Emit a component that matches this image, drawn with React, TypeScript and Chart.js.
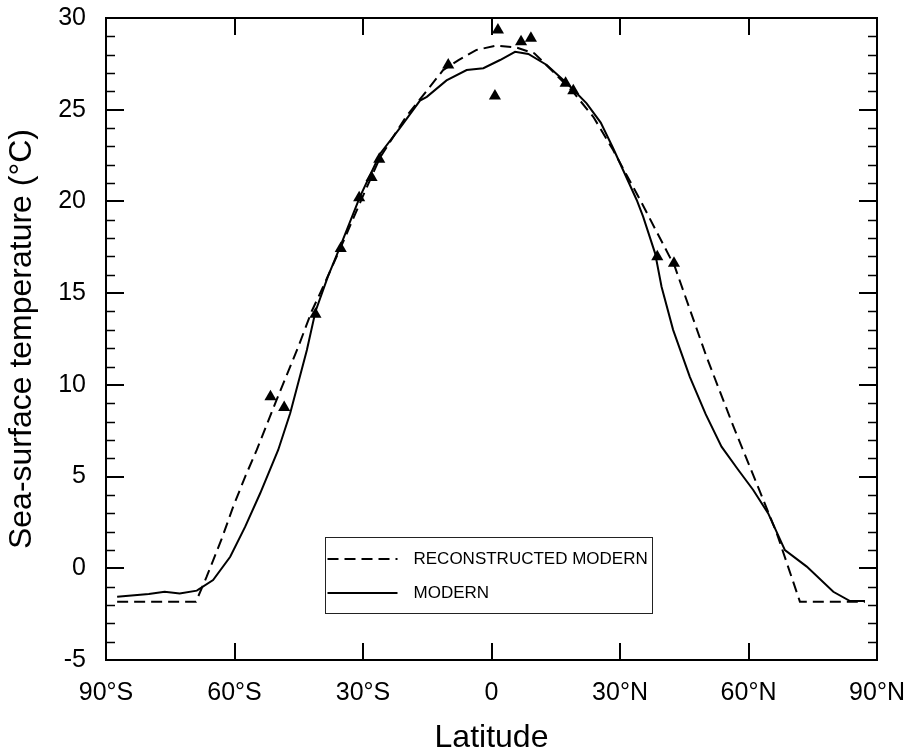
import React, { useEffect, useRef } from "react";
import { Chart, registerables } from "chart.js";

Chart.register(...registerables);

// ---- Data ----
const seriesLabels = ["RECONSTRUCTED MODERN", "MODERN"];

const reconLat = [-87.4, -69, -66.5, -63, -60.3, -57.5, -54.8, -50.2, -45.1, -42, -39.6, -35, -30, -26, -20, -15, -11.3, -7.7, -3.5, 1.2, 6, 10, 14.4, 19, 23.8, 28.4, 34.7, 42.8, 50.2, 56.5, 61.9, 66.6, 72, 87.2];
const reconSST = [-1.82, -1.82, -0.46, 1.6, 3.36, 5.0, 6.45, 9.17, 12.08, 14.0, 15.2, 17.6, 20.3, 22.4, 24.6, 26.07, 27.16, 27.7, 28.26, 28.5, 28.38, 28.07, 27.07, 25.98, 24.6, 22.8, 20.08, 16.44, 11.53, 7.72, 4.63, 1.91, -1.82, -1.82];

const modernLat = [-87.4, -80, -76.3, -72.8, -68.8, -65, -61, -57.5, -54, -49.8, -47, -43.1, -41.1, -38.2, -35.4, -30.7, -26, -21.4, -16.7, -15.1, -10.5, -5.8, -1.9, 2, 5.5, 8.6, 12.9, 17.6, 22.2, 25.5, 28.4, 33.9, 35.4, 38.2, 39.7, 42.4, 46.3, 50, 53.7, 57.5, 61.1, 64.6, 68.5, 73.6, 79.8, 83.7, 87.2];
const modernSST = [-1.55, -1.4, -1.28, -1.37, -1.22, -0.64, 0.63, 2.27, 4.09, 6.45, 8.45, 11.9, 14.0, 15.9, 17.5, 20.26, 22.6, 24.0, 25.5, 25.7, 26.6, 27.16, 27.26, 27.71, 28.16, 28.04, 27.44, 26.44, 25.35, 24.3, 22.9, 20.08, 19.17, 17.17, 15.35, 13.0, 10.44, 8.4, 6.63, 5.4, 4.27, 2.99, 0.99, 0.09, -1.28, -1.79, -1.79];

const coreLat = [1.5, 0.8, -10.1, 6.9, 9.2, 17.3, 19.1, 38.7, 42.6, -51.6, -48.4, -41.1, -35.2, -30.9, -28.0, -26.2];
const coreSST = [29.35, 25.75, 27.44, 28.7, 28.9, 26.44, 26.04, 16.99, 16.63, 9.35, 8.77, 13.85, 17.44, 20.2, 21.3, 22.3];

const xTickValues = [-90, -60, -30, 0, 30, 60, 90];
const xTickLabels = ["90°S", "60°S", "30°S", "0", "30°N", "60°N", "90°N"];
const yTickValues = [-5, 0, 5, 10, 15, 20, 25, 30];
const yMinorStep = 1;

const FONT = "'Liberation Sans', Arial, Helvetica, sans-serif";

const framePlugin = {
  id: "frameTicks",
  afterDatasetsDraw(chart: any) {
    const { ctx, chartArea: a, scales } = chart;
    const x = scales.x;
    const y = scales.y;
    ctx.save();
    ctx.strokeStyle = "#000";
    // minor y ticks
    ctx.lineWidth = 1.5;
    const yMin = yTickValues[0];
    const yMax = yTickValues[yTickValues.length - 1];
    for (let v = yMin; v <= yMax; v += yMinorStep) {
      if (yTickValues.includes(v)) continue;
      const py = Math.round(y.getPixelForValue(v)) + 0.5;
      ctx.beginPath();
      ctx.moveTo(a.left, py);
      ctx.lineTo(a.left + 9, py);
      ctx.moveTo(a.right, py);
      ctx.lineTo(a.right - 9, py);
      ctx.stroke();
    }
    // major y ticks
    ctx.lineWidth = 2;
    yTickValues.forEach((v) => {
      const py = Math.round(y.getPixelForValue(v));
      ctx.beginPath();
      ctx.moveTo(a.left, py);
      ctx.lineTo(a.left + 18, py);
      ctx.moveTo(a.right, py);
      ctx.lineTo(a.right - 18, py);
      ctx.stroke();
    });
    // major x ticks
    xTickValues.forEach((v) => {
      const px = Math.round(x.getPixelForValue(v));
      ctx.beginPath();
      ctx.moveTo(px, a.top);
      ctx.lineTo(px, a.top + 17);
      ctx.moveTo(px, a.bottom);
      ctx.lineTo(px, a.bottom - 17);
      ctx.stroke();
    });
    // frame
    ctx.lineWidth = 2;
    ctx.strokeRect(a.left, a.top, a.right - a.left, a.bottom - a.top);

    // legend box
    const bx = 325.5, by = 537.5, bw = 327, bh = 76;
    ctx.lineWidth = 1;
    ctx.strokeStyle = "#222";
    ctx.strokeRect(bx, by, bw, bh);
    const rows = [559, 593];
    ctx.font = `17px ${FONT}`;
    ctx.fillStyle = "#000";
    ctx.textBaseline = "middle";
    ctx.textAlign = "left";
    chart.data.datasets.slice(0, 2).forEach((ds: any, i: number) => {
      ctx.strokeStyle = "#000";
      ctx.lineWidth = 2;
      ctx.setLineDash(ds.borderDash || []);
      ctx.beginPath();
      ctx.moveTo(bx + 2, rows[i]);
      ctx.lineTo(bx + 72, rows[i]);
      ctx.stroke();
      ctx.setLineDash([]);
      ctx.fillText(ds.label, bx + 88, rows[i]);
    });
    ctx.restore();
  },
};

export default function App() {
  const ref = useRef<HTMLCanvasElement | null>(null);
  useEffect(() => {
    if (!ref.current) return;
    const chart = new Chart(ref.current, {
      type: "scatter",
      data: {
        datasets: [
          {
            label: seriesLabels[0],
            data: reconLat.map((v, i) => ({ x: v, y: reconSST[i] })),
            showLine: true,
            borderColor: "#000",
            borderWidth: 2,
            borderDash: [11, 6],
            pointRadius: 0,
            tension: 0,
          },
          {
            label: seriesLabels[1],
            data: modernLat.map((v, i) => ({ x: v, y: modernSST[i] })),
            showLine: true,
            borderColor: "#000",
            borderWidth: 2,
            pointRadius: 0,
            tension: 0,
          },
          {
            label: "Core tops",
            data: coreLat.map((v, i) => ({ x: v, y: coreSST[i] })),
            showLine: false,
            pointStyle: "triangle",
            pointRadius: 7,
            backgroundColor: "#000",
            borderColor: "#000",
            borderWidth: 0,
          },
        ],
      },
      options: {
        responsive: false,
        animation: false,
        devicePixelRatio: 1,
        layout: { padding: { top: 18, right: 28, left: 0, bottom: 0 } },
        plugins: { legend: { display: false }, tooltip: { enabled: false } },
        scales: {
          x: {
            type: "linear",
            min: -90,
            max: 90,
            grid: { display: false, drawTicks: false },
            border: { display: false },
            afterBuildTicks: (s: any) => {
              s.ticks = xTickValues.map((v) => ({ value: v }));
            },
            afterFit: (s: any) => {
              s.height = 92;
              s.paddingLeft = 0;
              s.paddingRight = 0;
            },
            ticks: {
              color: "#000",
              padding: 18,
              maxRotation: 0,
              font: { family: FONT, size: 25 },
              callback: (v: any) => xTickLabels[xTickValues.indexOf(Number(v))],
            },
            title: {
              display: true,
              text: "Latitude",
              color: "#000",
              font: { family: FONT, size: 32 },
              padding: { top: 0, bottom: -5 },
            },
          },
          y: {
            type: "linear",
            min: -5,
            max: 30,
            grid: { display: false, drawTicks: false },
            border: { display: false },
            afterBuildTicks: (s: any) => {
              s.ticks = yTickValues.map((v) => ({ value: v }));
            },
            afterFit: (s: any) => {
              s.width = 106;
              s.paddingTop = 0;
              s.paddingBottom = 0;
            },
            ticks: {
              color: "#000",
              padding: 20,
              font: { family: FONT, size: 25 },
              callback: (v: any) => String(v),
            },
            title: {
              display: true,
              text: "Sea-surface temperature (°C)",
              color: "#000",
              font: { family: FONT, size: 32 },
              padding: { top: 3, bottom: 0 },
            },
          },
        },
      },
      plugins: [framePlugin],
    });
    return () => chart.destroy();
  }, []);
  return (
    <div style={{ position: "absolute", left: 0, top: 0, width: 905, height: 752, background: "#fff" }}>
      <canvas ref={ref} width={905} height={752} style={{ display: "block" }} />
    </div>
  );
}
